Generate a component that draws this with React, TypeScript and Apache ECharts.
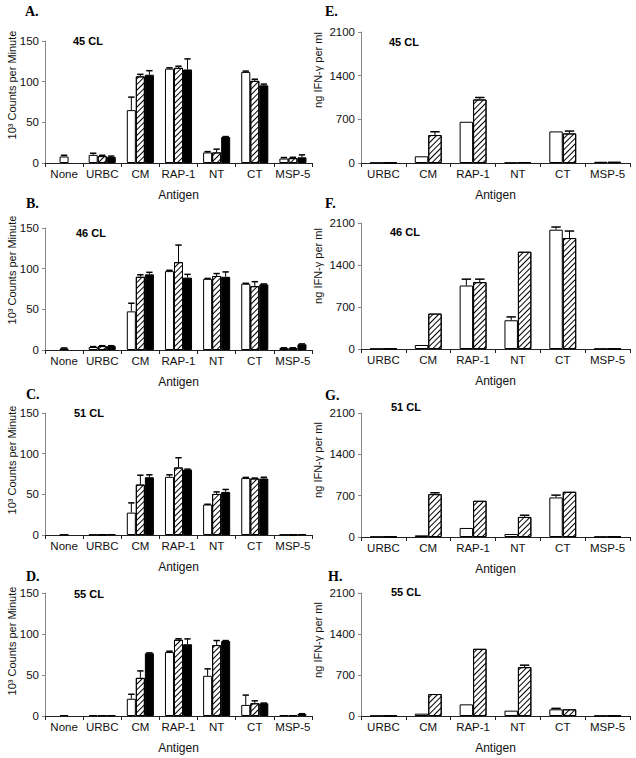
import React, { useEffect, useRef } from "react";
import * as echarts from "echarts";

// ---------- data ----------
const leftCategories = ["None", "URBC", "CM", "RAP-1", "NT", "CT", "MSP-5"];
const rightCategories = ["URBC", "CM", "RAP-1", "NT", "CT", "MSP-5"];

// Proliferation (10^3 cpm) — white, hatched, black; "None" uses the middle slot
const A_white = [null, 10, 65, 116, 13, 112, 5.5];
const A_hatched = [8, 8.5, 106.5, 117, 13, 101, 6];
const A_black = [null, 7.5, 108.5, 115, 32, 95.5, 7];
const A_errWhite = [0, 2, 16, 1, 1, 1, 1.2];
const A_errHatched = [1.5, 1, 2.5, 2, 4, 2, 1];
const A_errBlack = [0, 1, 5, 13, 0.5, 1.5, 3];

const B_white = [null, 3.7, 47.5, 97, 87.5, 81.5, 2.4];
const B_hatched = [2, 4.8, 90, 108, 91, 78.5, 2.4];
const B_black = [null, 4.8, 93, 89, 90, 80.7, 7];
const B_errWhite = [0, 0.5, 10, 1, 0.5, 0.5, 0.3];
const B_errHatched = [0.5, 0.5, 2.5, 21, 3, 5.5, 0.3];
const B_errBlack = [0, 0.5, 2.5, 4, 6, 0.5, 0.5];

const C_white = [null, 0.5, 27.5, 71.5, 37.5, 70, 0.5];
const C_hatched = [0.5, 0.5, 62, 83, 50.5, 69.5, 0.5];
const C_black = [null, 1, 71, 80.5, 53, 69.5, 1];
const C_errWhite = [0, 0, 12, 2.5, 0.3, 0.8, 0];
const C_errHatched = [0, 0, 11.5, 12, 2.5, 0.5, 0];
const C_errBlack = [0, 0, 3, 0.5, 3, 1.5, 0];

const D_white = [null, 1, 21, 78, 49, 13.5, 1];
const D_hatched = [1.2, 1, 46.5, 93, 86.5, 15.5, 1];
const D_black = [null, 1, 76.5, 87.5, 91.5, 15.5, 2.5];
const D_errWhite = [0, 0, 5.5, 1, 8.5, 12, 0];
const D_errHatched = [0, 0, 8.5, 1.2, 5.5, 3, 0];
const D_errBlack = [0, 0, 0.5, 6.5, 0.5, 0.3, 0.3];

// IFN-gamma (ng/ml) — white, hatched
const E_white = [5, 107, 661, 5, 506, 20];
const E_hatched = [5, 448, 1018, 16, 474, 20];
const E_errWhite = [0, 0, 0, 0, 0, 0];
const E_errHatched = [0, 53, 32, 0, 38, 0];

const F_white = [5, 67, 1058, 479, 1988, 5];
const F_hatched = [5, 590, 1114, 1621, 1849, 5];
const F_errWhite = [0, 0, 106, 56, 45, 0];
const F_errHatched = [0, 0, 50, 0, 117, 0];

const G_white = [5, 28, 153, 51, 670, 5];
const G_hatched = [5, 726, 613, 340, 766, 5];
const G_errWhite = [0, 0, 0, 0, 39, 0];
const G_errHatched = [0, 23, 0, 29, 0, 0];

const H_white = [5, 40, 199, 91, 114, 5];
const H_hatched = [5, 375, 1147, 834, 114, 5];
const H_errWhite = [0, 0, 0, 0, 16, 0];
const H_errHatched = [0, 0, 0, 34, 0, 0];

const leftTicks = { max: 150, interval: 50 };
const rightTicks = { max: 2100, interval: 700 };

// ---------- layout ----------
const FONT = "'Liberation Sans', Arial, sans-serif";
const SERIF = "'Liberation Serif', 'Times New Roman', serif";

const panels = [
  { label: "A.", cl: "45 CL", side: "L", grid: { left: 45, top: 41, width: 267, height: 122 }, labelPos: [25, 12], clPos: [73, 42], yNameY: 85,
    series: [A_white, A_hatched, A_black], errs: [A_errWhite, A_errHatched, A_errBlack] },
  { label: "B.", cl: "46 CL", side: "L", grid: { left: 45, top: 228, width: 267, height: 122 }, labelPos: [26, 204], clPos: [76, 234], yNameY: 270,
    series: [B_white, B_hatched, B_black], errs: [B_errWhite, B_errHatched, B_errBlack] },
  { label: "C.", cl: "51 CL", side: "L", grid: { left: 45, top: 413, width: 267, height: 122 }, labelPos: [26, 395], clPos: [74, 414], yNameY: 460,
    series: [C_white, C_hatched, C_black], errs: [C_errWhite, C_errHatched, C_errBlack] },
  { label: "D.", cl: "55 CL", side: "L", grid: { left: 45, top: 593, width: 267, height: 123 }, labelPos: [26, 577], clPos: [74, 595], yNameY: 641,
    series: [D_white, D_hatched, D_black], errs: [D_errWhite, D_errHatched, D_errBlack] },
  { label: "E.", cl: "45 CL", side: "R", grid: { left: 361, top: 32, width: 269, height: 131 }, labelPos: [325, 12], clPos: [389, 43], yNameY: 70,
    series: [E_white, E_hatched], errs: [E_errWhite, E_errHatched] },
  { label: "F.", cl: "46 CL", side: "R", grid: { left: 361, top: 223, width: 269, height: 126 }, labelPos: [325, 204], clPos: [390, 233], yNameY: 266,
    series: [F_white, F_hatched], errs: [F_errWhite, F_errHatched] },
  { label: "G.", cl: "51 CL", side: "R", grid: { left: 361, top: 413, width: 269, height: 124 }, labelPos: [325, 396], clPos: [391, 408], yNameY: 460,
    series: [G_white, G_hatched], errs: [G_errWhite, G_errHatched] },
  { label: "H.", cl: "55 CL", side: "R", grid: { left: 361, top: 593, width: 269, height: 123 }, labelPos: [328, 577], clPos: [391, 593], yNameY: 640,
    series: [H_white, H_hatched], errs: [H_errWhite, H_errHatched] },
];

const hatchDecal = {
  symbol: "rect",
  symbolSize: 1,
  color: "#000",
  backgroundColor: "#fff",
  dashArrayX: [1, 0],
  dashArrayY: [1, 2.2],
  rotation: -Math.PI / 4,
};

function buildOption() {
  const grid: any[] = [];
  const xAxis: any[] = [];
  const yAxis: any[] = [];
  const series: any[] = [];
  const graphic: any[] = [];

  panels.forEach((p, gi) => {
    const isL = p.side === "L";
    const cats = isL ? leftCategories : rightCategories;
    const ticks = isL ? leftTicks : rightTicks;
    const n = p.series.length;
    const gapFrac = isL ? 0.29 : 0.4;
    grid.push({ ...p.grid, containLabel: false, outerBoundsMode: "none" });
    xAxis.push({
      gridIndex: gi,
      type: "category",
      data: cats,
      name: "Antigen",
      nameLocation: "middle",
      nameGap: 26,
      nameTextStyle: { fontFamily: FONT, fontSize: 12, color: "#111" },
      axisLine: { show: true, lineStyle: { color: "#222", width: 1 } },
      axisTick: { show: true, length: 4, inside: false, lineStyle: { color: "#222" } },
      axisLabel: { interval: 0, fontFamily: FONT, fontSize: 11.5, color: "#111", margin: 5 },
      splitLine: { show: false },
    });
    yAxis.push({
      gridIndex: gi,
      type: "value",
      min: 0,
      max: ticks.max,
      interval: ticks.interval,
      axisLine: { show: true, lineStyle: { color: "#888", width: 1 } },
      axisTick: { show: true, length: 3, inside: false, lineStyle: { color: "#888" } },
      axisLabel: { fontFamily: FONT, fontSize: 11.5, color: "#111", margin: 6, formatter: (v: number) => String(v) },
      splitLine: { show: false },
    });

    p.series.forEach((vals, si) => {
      const isHatch = si === 1;
      const isBlack = si === 2;
      const data = vals.map((v, ci) => {
        if (v === null) return "-";
        if (isL && ci === 0 && isHatch) {
          return { value: v, itemStyle: { color: "#fff", decal: "none" } };
        }
        return v;
      });
      series.push({
        type: "bar",
        xAxisIndex: gi,
        yAxisIndex: gi,
        data,
        barGap: "0%",
        barCategoryGap: `${gapFrac * 100}%`,
        itemStyle: {
          color: isBlack ? "#000" : "#fff",
          borderColor: "#000",
          borderWidth: 1,
          ...(isHatch ? { decal: hatchDecal } : {}),
        },
        emphasis: { disabled: true },
      });
    });

    const errData: number[][] = [];
    p.errs.forEach((errs, si) => {
      errs.forEach((e, ci) => {
        const v = p.series[si][ci];
        if (v !== null && e > 0) errData.push([ci, v as number, e, si]);
      });
    });
    series.push({
      type: "custom",
      xAxisIndex: gi,
      yAxisIndex: gi,
      data: errData,
      encode: { x: 0, y: 1 },
      z: 5,
      renderItem: (params: any, api: any) => {
        const c = api.value(0);
        const v = api.value(1);
        const e = api.value(2);
        const s = api.value(3);
        const band = api.size([1, 0])[0];
        const groupW = band * (1 - gapFrac);
        const bw = groupW / n;
        const base = api.coord([c, v]);
        const top = api.coord([c, v + e]);
        const x = base[0] - groupW / 2 + bw * (s + 0.5);
        return {
          type: "group",
          children: [
            { type: "line", shape: { x1: x, y1: base[1], x2: x, y2: top[1] }, style: { stroke: "#000", lineWidth: 1 } },
            { type: "line", shape: { x1: x - bw * 0.35, y1: top[1], x2: x + bw * 0.35, y2: top[1] }, style: { stroke: "#000", lineWidth: 1.5 } },
          ],
        };
      },
    });

    graphic.push({
      type: "text",
      left: p.labelPos[0],
      top: p.labelPos[1] - 8,
      style: { text: p.label, font: `bold 14px ${SERIF}`, fill: "#000" },
    });
    graphic.push({
      type: "text",
      left: p.clPos[0],
      top: p.clPos[1] - 7,
      style: { text: p.cl, font: `bold 11px ${FONT}`, fill: "#000" },
    });
    graphic.push({
      type: "text",
      x: isL ? 12 : 318,
      y: p.yNameY,
      rotation: Math.PI / 2,
      style: {
        text: isL ? "10³ Counts per Minute" : "ng IFN-γ per ml",
        font: `11px ${FONT}`,
        fill: "#111",
        align: "center",
        verticalAlign: "middle",
      },
    });
  });

  return {
    animation: false,
    backgroundColor: "#fff",
    grid,
    xAxis,
    yAxis,
    series,
    graphic,
  };
}

export default function App() {
  const ref = useRef<HTMLDivElement>(null);
  useEffect(() => {
    if (!ref.current) return;
    const chart = echarts.init(ref.current, null, { renderer: "svg" });
    chart.setOption(buildOption() as any);
    return () => chart.dispose();
  }, []);
  return (
    <div
      ref={ref}
      style={{ position: "fixed", left: 0, top: 0, width: 636, height: 758, background: "#fff" }}
    />
  );
}
